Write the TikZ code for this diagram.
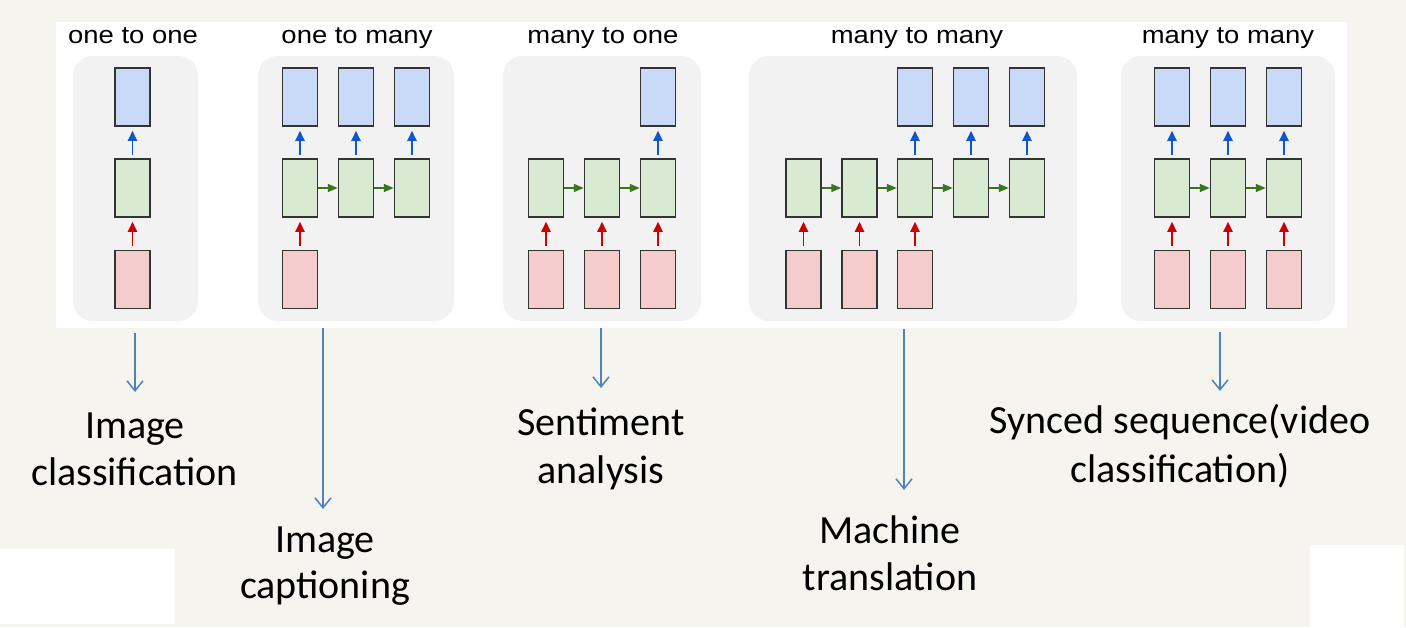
\documentclass[tikz,border=0pt]{standalone}
\usepackage{fontspec}
\setmainfont{Carlito}
\newfontfamily\titlefont[FakeStretch=1.12]{Liberation Sans}
\usetikzlibrary{arrows.meta}
\definecolor{bgbeige}{HTML}{F5F4EF}
\definecolor{panelgrey}{HTML}{F2F2F2}
\definecolor{outblue}{HTML}{C9DAF8}
\definecolor{hidgreen}{HTML}{D9EAD3}
\definecolor{inred}{HTML}{F4CCCC}
\definecolor{boxedge}{HTML}{333333}
\definecolor{arrblue}{HTML}{1155CC}
\definecolor{arrred}{HTML}{CC0000}
\definecolor{arrgreen}{HTML}{38761D}
\definecolor{connblue}{HTML}{4F81BD}
\tikzset{
  cell/.style={draw=boxedge, line width=1.5pt, minimum width=35pt, minimum height=58pt, inner sep=0pt},
  obox/.style={cell, fill=outblue},
  hbox/.style={cell, fill=hidgreen},
  ibox/.style={cell, fill=inred},
  panel/.style={fill=panelgrey, rounded corners=20pt},
  uparrblue/.style={draw=arrblue, line width=1.9pt, -{Triangle[width=9pt,length=10pt]}, shorten <=3pt, shorten >=4pt},
  uparrred/.style={draw=arrred, line width=1.9pt, -{Triangle[width=9pt,length=10pt]}, shorten <=4pt, shorten >=4pt},
  rarr/.style={draw=arrgreen, line width=1.6pt, -{Triangle[width=8pt,length=10pt]}},
  title/.style={font=\titlefont\fontsize{24.5}{28}\selectfont, anchor=base, inner sep=0pt},
  label/.style={font=\fontsize{40}{47}\selectfont, anchor=base, inner sep=0pt},
  conn/.style={draw=connblue, line width=1.5pt, -{Straight Barb[width=16pt,length=10pt]}}
}
\begin{document}
\begin{tikzpicture}[x=1pt,y=-1pt]
\useasboundingbox (0,0) rectangle (1406,627);
\fill[bgbeige] (0,0) rectangle (1406,627);
\fill[white] (56,22) rectangle (1347,328);
\fill[white] (0,549) rectangle (175,624);
\fill[white] (1310,545) rectangle (1404,627);
% panels
\fill[panel] (73,56) rectangle (198,321);
\fill[panel] (258,56) rectangle (454,321);
\fill[panel] (503,56) rectangle (701,321);
\fill[panel] (749,56) rectangle (1077,321);
\fill[panel] (1121,56) rectangle (1335,321);
% titles
\node[title] (t1) at (133,43) {one to one};
\node[title] (t2) at (357,43) {one to many};
\node[title] (t3) at (603,43) {many to one};
\node[title] (t4) at (917,43) {many to many};
\node[title] (t5) at (1228,43) {many to many};
% panel 1
\node[obox] (aO1) at (132.5,97) {};
\node[hbox] (aH1) at (132.5,188) {};
\node[ibox] (aI1) at (132.5,279.5) {};
\draw[uparrblue] (aH1.north) -- (aO1.south);
\draw[uparrred] (aI1.north) -- (aH1.south);
% panel 2
\foreach \i/\x in {1/300,2/356,3/412} {
  \node[obox] (bO\i) at (\x,97) {};
  \node[hbox] (bH\i) at (\x,188) {};
  \draw[uparrblue] (bH\i.north) -- (bO\i.south);
}
\node[ibox] (bI1) at (300,279.5) {};
\draw[uparrred] (bI1.north) -- (bH1.south);
\draw[rarr] (bH1.east) -- (bH2.west);
\draw[rarr] (bH2.east) -- (bH3.west);
% panel 3
\foreach \i/\x in {1/546,2/602,3/658} {
  \node[hbox] (cH\i) at (\x,188) {};
  \node[ibox] (cI\i) at (\x,279.5) {};
  \draw[uparrred] (cI\i.north) -- (cH\i.south);
}
\node[obox] (cO3) at (658,97) {};
\draw[uparrblue] (cH3.north) -- (cO3.south);
\draw[rarr] (cH1.east) -- (cH2.west);
\draw[rarr] (cH2.east) -- (cH3.west);
% panel 4
\foreach \i/\x in {1/803.5,2/859.5,3/915,4/971,5/1027} {
  \node[hbox] (dH\i) at (\x,188) {};
}
\foreach \i/\x in {1/803.5,2/859.5,3/915} {
  \node[ibox] (dI\i) at (\x,279.5) {};
  \draw[uparrred] (dI\i.north) -- (dH\i.south);
}
\foreach \i/\x in {3/915,4/971,5/1027} {
  \node[obox] (dO\i) at (\x,97) {};
  \draw[uparrblue] (dH\i.north) -- (dO\i.south);
}
\draw[rarr] (dH1.east) -- (dH2.west);
\draw[rarr] (dH2.east) -- (dH3.west);
\draw[rarr] (dH3.east) -- (dH4.west);
\draw[rarr] (dH4.east) -- (dH5.west);
% panel 5
\foreach \i/\x in {1/1172,2/1228,3/1284} {
  \node[obox] (eO\i) at (\x,97) {};
  \node[hbox] (eH\i) at (\x,188) {};
  \node[ibox] (eI\i) at (\x,279.5) {};
  \draw[uparrblue] (eH\i.north) -- (eO\i.south);
  \draw[uparrred] (eI\i.north) -- (eH\i.south);
}
\draw[rarr] (eH1.east) -- (eH2.west);
\draw[rarr] (eH2.east) -- (eH3.west);
% labels
\node[label] (l1a) at (135,438) {Image};
\node[label] (l1b) at (134.5,485) {classification};
\node[label] (l2a) at (325,552) {Image};
\node[label] (l2b) at (325,598) {captioning};
\node[label] (l3a) at (601,435) {Sentiment};
\node[label] (l3b) at (601,483) {analysis};
\node[label] (l4a) at (890,543) {Machine};
\node[label] (l4b) at (890,590) {translation};
\node[label] (l5a) at (1180,433) {Synced sequence(video};
\node[label] (l5b) at (1180,482) {classification)};
% connectors
\coordinate (s1) at (135,333); \coordinate (e1) at (135,392);
\coordinate (s2) at (323,328); \coordinate (e2) at (323,509);
\coordinate (s3) at (601,328); \coordinate (e3) at (601,388);
\coordinate (s4) at (904,329); \coordinate (e4) at (904,490);
\coordinate (s5) at (1220,332); \coordinate (e5) at (1220,391);
\draw[conn] (s1) -- (e1);
\draw[conn] (s2) -- (e2);
\draw[conn] (s3) -- (e3);
\draw[conn] (s4) -- (e4);
\draw[conn] (s5) -- (e5);
\end{tikzpicture}
\end{document}
